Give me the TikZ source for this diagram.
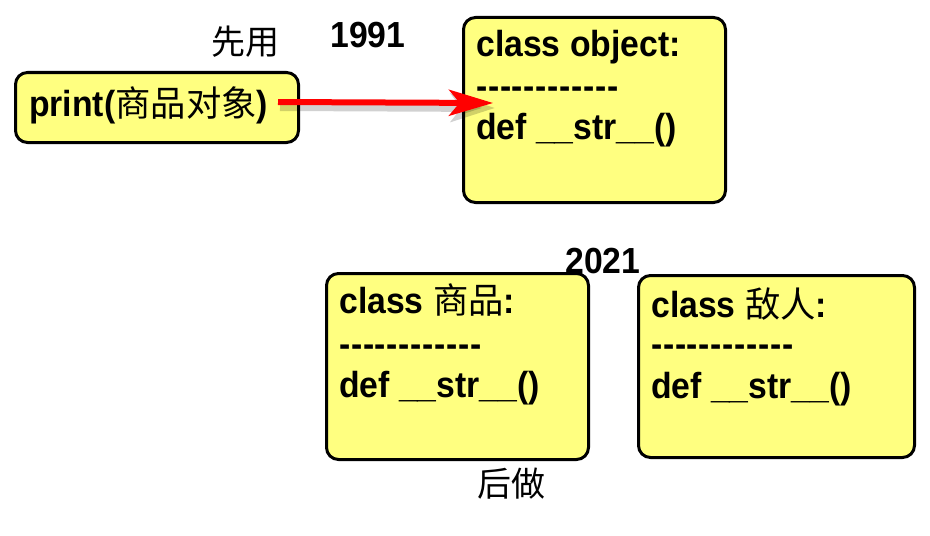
\documentclass[tikz,border=0pt]{standalone}
\usepackage{fontspec}
\setmainfont{Liberation Sans}[Ligatures=TeXOff,FakeStretch=0.93]
\newfontfamily\cjk{Noto Sans CJK SC}
\usetikzlibrary{arrows.meta,calc}
\newlength\pxu
\setlength\pxu{0.75pt}
\definecolor{boxfill}{HTML}{FFFF80}
\definecolor{arrowred}{HTML}{FF0000}
\newcommand\dashrow{-\kern0.5pt-\kern0.5pt-\kern0.5pt-\kern0.5pt-\kern0.5pt-\kern0.5pt-\kern0.5pt-\kern0.5pt-\kern0.5pt-\kern0.5pt-\kern0.5pt-}
\begin{document}
\begin{tikzpicture}[x=0.75pt,y=-0.75pt,
  classbox/.style={draw=black,line width=3\pxu,fill=boxfill,rounded corners=12\pxu,
    inner sep=0pt,anchor=north west},
  codetext/.style={anchor=base west,inner sep=0pt,
    font=\fontsize{27.2pt}{30pt}\selectfont\bfseries},
  cjktext/.style={anchor=base west,inner sep=0pt,
    font=\fontsize{25.5pt}{30pt}\selectfont\cjk},
  redarrow/.style={draw=arrowred,line width=4.5pt,
    -{Stealth[length=33pt,width=19.5pt,inset=8pt]}},
  shadowarrow/.style={draw=black,opacity=0.18,line width=6pt,
    -{Stealth[length=33pt,width=21pt,inset=8pt]}}
]
\useasboundingbox (0,0) rectangle (930,535);

% boxes
\node[classbox,minimum width=283\pxu,minimum height=70\pxu] (printbox) at (14,71) {};
\node[classbox,minimum width=262\pxu,minimum height=185\pxu] (objbox) at (462,16) {};
\node[classbox,minimum width=262\pxu,minimum height=186\pxu] (goodsbox) at (325,272) {};
\node[classbox,minimum width=276\pxu,minimum height=182\pxu] (enemybox) at (637,274) {};

% print text
\node[codetext] (printtxt) at (29,116) {print({\fontsize{26.5pt}{30pt}\selectfont\mdseries\cjk 商品对象})};

% labels
\node[cjktext] (xianyong) at (211,55) {先用};
\node[codetext] (y1991) at (330,48) {1991};
\node[codetext] (y2021) at (565,273) {2021};
\node[cjktext] (houzuo) at (477,496) {后做};

% object box text
\node[codetext] (obj1) at (476,57) {class object:};
\node[codetext] (obj2) at (476,98) {\dashrow};
\node[codetext] (obj3) at (476,139) {def \_\_str\_\_()};

% goods box text
\node[codetext] (goods1) at (339,313) {class {\fontsize{26.5pt}{30pt}\selectfont\mdseries\cjk 商品}:};
\node[codetext] (goods2) at (339,356) {\dashrow};
\node[codetext] (goods3) at (339,397) {def \_\_str\_\_()};

% enemy box text
\node[codetext] (enemy1) at (651,317) {class {\fontsize{26.5pt}{30pt}\selectfont\mdseries\cjk 敌人}:};
\node[codetext] (enemy2) at (651,356) {\dashrow};
\node[codetext] (enemy3) at (651,398) {def \_\_str\_\_()};

% arrow
\coordinate (arrstart) at ($(printbox.north east)+(-22,31)$);
\coordinate (arrend) at ($(objbox.north west)+(31,87)$);
\coordinate (shstart) at ($(arrstart)+(2,5)$);
\coordinate (shend) at ($(arrend)+(2,5)$);
\draw[shadowarrow] (shstart) -- (shend);
\draw[redarrow] (arrstart) -- (arrend);
\end{tikzpicture}
\end{document}
